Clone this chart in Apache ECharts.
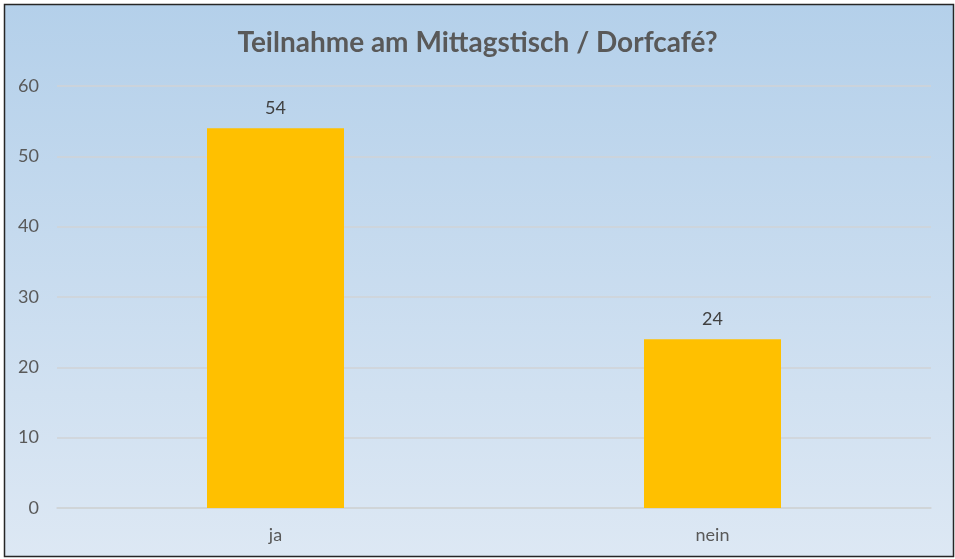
<!DOCTYPE html>
<html>
<head>
<meta charset="utf-8">
<script src="https://cdn.jsdelivr.net/npm/echarts@6/dist/echarts.min.js"></script>
<style>
  html, body { margin: 0; padding: 0; background: #ffffff; }
  #chart { width: 955px; height: 559px; }
</style>
</head>
<body>
<div id="chart"></div>
<script>
  const categories = ['ja', 'nein'];
  const values = [54, 24];
  const yTicks = [0, 10, 20, 30, 40, 50, 60];

  const font = 'Lato, "Open Sans", sans-serif';
  const chart = echarts.init(document.getElementById('chart'));
  chart.setOption({
    animation: false,
    graphic: [{
      type: 'rect',
      z: -10,
      silent: true,
      shape: { x: 4.5, y: 4.5, width: 949, height: 552 },
      style: {
        fill: new echarts.graphic.LinearGradient(0, 0, 0, 1, [
          { offset: 0, color: '#b4d0ea' },
          { offset: 1, color: '#dde8f4' }
        ]),
        stroke: '#262626',
        lineWidth: 1.5
      }
    }],
    title: {
      text: 'Teilnahme am Mittagstisch / Dorfcafé?',
      left: 'center',
      top: 24,
      textStyle: { fontFamily: font, fontSize: 28, fontWeight: 'bold', color: '#595959' }
    },
    grid: { left: 57, right: 24, top: 86, bottom: 51 },
    xAxis: {
      type: 'category',
      data: categories,
      axisLine: { lineStyle: { color: '#d0d3d6', width: 1.5 } },
      axisTick: { show: false },
      axisLabel: { fontFamily: font, fontSize: 18, color: '#595959', margin: 18 }
    },
    yAxis: {
      type: 'value',
      min: yTicks[0],
      max: yTicks[yTicks.length - 1],
      interval: 10,
      axisLine: { show: false },
      axisTick: { show: false },
      splitLine: { lineStyle: { color: '#d0d3d6', width: 1.5 } },
      axisLabel: { fontFamily: font, fontSize: 18, color: '#595959', margin: 18 }
    },
    series: [{
      type: 'bar',
      data: values,
      barWidth: 137,
      itemStyle: { color: '#ffc000' },
      label: {
        show: true,
        position: 'top',
        distance: 11,
        fontFamily: font,
        fontSize: 18,
        color: '#404040'
      }
    }]
  });
</script>
</body>
</html>
